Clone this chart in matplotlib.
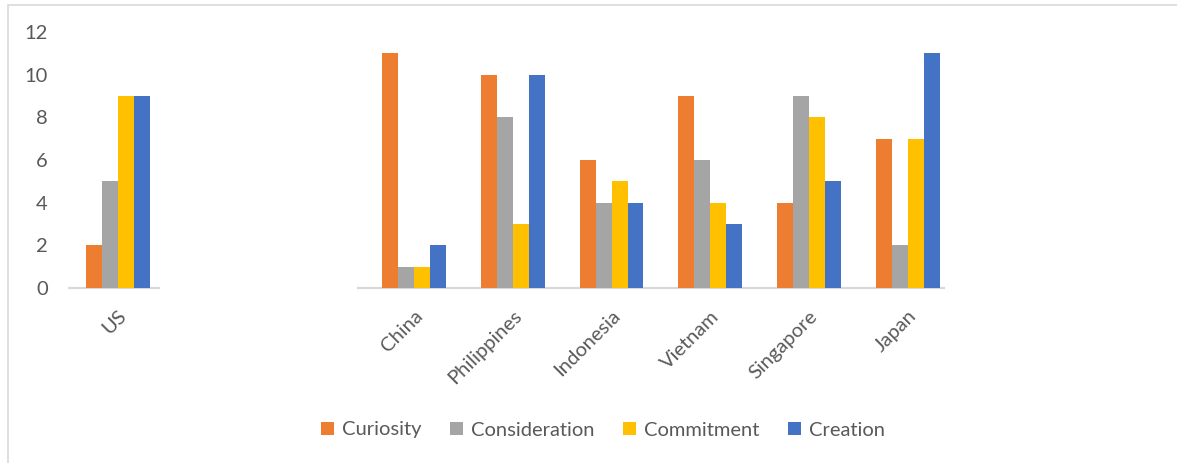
import matplotlib
matplotlib.use("Agg")
import matplotlib.pyplot as plt
import numpy as np
from matplotlib.patches import Rectangle

categories = ["US", "", "", "China", "Philippines", "Indonesia", "Vietnam", "Singapore", "Japan"]
series_names = ["Curiosity", "Consideration", "Commitment", "Creation"]
curiosity = [2, None, None, 11, 10, 6, 9, 4, 7]
consideration = [5, None, None, 1, 8, 4, 6, 9, 2]
commitment = [9, None, None, 1, 3, 5, 4, 8, 7]
creation = [9, None, None, 2, 10, 4, 3, 5, 11]
colors = ["#ED7D31", "#A5A5A5", "#FFC000", "#4472C4"]
yticks = [0, 2, 4, 6, 8, 10, 12]

plt.rcParams['font.family'] = ['Lato', 'DejaVu Sans']

W, H = 1177, 463
fig = plt.figure(figsize=(W / 100, H / 100), dpi=100)
ax = fig.add_axes([68.6 / W, (H - 288) / H, (957 - 68.6) / W, 256 / H])

x = np.arange(len(categories))
bw = 0.162
all_series = [curiosity, consideration, commitment, creation]
for i, (vals, name, c) in enumerate(zip(all_series, series_names, colors)):
    v = np.array([np.nan if a is None else a for a in vals], dtype=float)
    ax.bar(x + (i - 1.5) * bw, v, width=bw, color=c, label=name, edgecolor='none')

ax.set_xlim(-0.5, len(categories) - 0.5)
ax.set_ylim(0, 12)
ax.set_yticks(yticks)
ax.set_yticklabels([str(t) for t in yticks], fontsize=14.5, color="#595959")
ax.tick_params(axis='y', length=0, pad=15)
ax.set_xticks(x)
ax.set_xticklabels(categories, rotation=45, ha='right', va='top',
                   rotation_mode='anchor', fontsize=14.5, color="#595959")
ax.tick_params(axis='x', length=0, pad=14)
for s in ax.spines.values():
    s.set_visible(False)

# broken category axis lines
axis_col = "#D9D9D9"
ax.plot([-0.5, 0.42], [0, 0], color=axis_col, lw=1.6, clip_on=False, zorder=0.5)
ax.plot([2.43, 8.37], [0, 0], color=axis_col, lw=1.6, clip_on=False, zorder=0.5)

leg = fig.legend(loc='center', bbox_to_anchor=(603 / W, (H - 430) / H), ncol=4,
                 frameon=False, fontsize=14.5, handlelength=0.65, handleheight=0.65,
                 handletextpad=0.4, columnspacing=1.4, labelcolor="#595959")

fig.patches.append(Rectangle((8 / W, -0.05), 1.2, (H - 5) / H + 0.05,
                             transform=fig.transFigure, fill=False,
                             edgecolor="#D9D9D9", lw=1.2))

fig.savefig("out.png", dpi=100, facecolor='white')
